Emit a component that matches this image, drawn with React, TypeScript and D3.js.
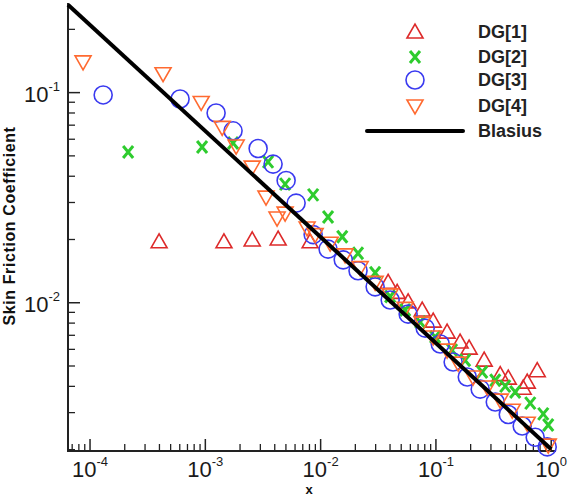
import React from 'react';
import * as d3 from 'd3';

// DG solutions, [x, Cf] pairs
const dg1 = [
  [3.97e-4, 0.0195], [1.45e-3, 0.0195], [2.55e-3, 0.0199], [4.28e-3, 0.0201], [8.1e-3, 0.0195],
  [0.0385, 0.0125], [0.0461, 0.0112], [0.0574, 0.0101], [0.076, 0.00923], [0.0947, 0.00818],
  [0.125, 0.00725], [0.162, 0.0065], [0.194, 0.00608], [0.262, 0.00533], [0.361, 0.00455],
  [0.424, 0.00438], [0.571, 0.00392], [0.619, 0.00419], [0.756, 0.00475],
];
const dg2 = [
  [2.14e-4, 0.0522], [9.37e-4, 0.0551], [1.74e-3, 0.0576], [3.5e-3, 0.0468], [4.92e-3, 0.0367],
  [8.61e-3, 0.0326], [0.0116, 0.0256], [0.0154, 0.0206], [0.0211, 0.0172], [0.0297, 0.0139],
  [0.0401, 0.0107], [0.0541, 0.00923], [0.073, 0.0081], [0.0985, 0.00687], [0.138, 0.00595],
  [0.179, 0.00533], [0.252, 0.00468], [0.327, 0.00428], [0.399, 0.00401], [0.487, 0.00376],
  [0.658, 0.00333], [0.853, 0.00296], [0.942, 0.00262],
];
const dg3 = [
  [1.3e-4, 0.0975], [6.04e-4, 0.0933], [1.24e-3, 0.08], [1.74e-3, 0.0658], [2.87e-3, 0.0542],
  [3.87e-3, 0.0457], [5.02e-3, 0.0382], [6.13e-3, 0.0298], [8.61e-3, 0.0211], [0.0116, 0.018],
  [0.0157, 0.016], [0.0211, 0.0142], [0.0297, 0.0119], [0.0401, 0.0103], [0.0574, 0.00883],
  [0.0807, 0.00757], [0.109, 0.00636], [0.141, 0.00522], [0.187, 0.00443], [0.242, 0.00388],
  [0.327, 0.00337], [0.424, 0.00294], [0.56, 0.00259], [0.726, 0.00229], [0.923, 0.00206],
];
const dg4 = [
  [8.7e-5, 0.14], [4.3e-4, 0.123], [9.2e-4, 0.0898], [1.4e-3, 0.0683], [1.85e-3, 0.0557],
  [2.55e-3, 0.0442], [3.36e-3, 0.0318], [4.19e-3, 0.0253], [4.92e-3, 0.0267], [7.63e-3, 0.0227],
  [8.96e-3, 0.0211], [0.0121, 0.0192], [0.0163, 0.0169], [0.022, 0.0147], [0.0297, 0.0125],
  [0.0401, 0.0109], [0.0541, 0.0094], [0.076, 0.008], [0.0947, 0.00687], [0.125, 0.00595],
  [0.156, 0.00516], [0.21, 0.00443], [0.279, 0.00397], [0.361, 0.00344], [0.459, 0.00308],
  [0.619, 0.00267], [0.942, 0.0021],
];
// Blasius line end points
const blasius = [[6.44e-5, 0.262], [1, 0.00201]];

const xTickExps = [-4, -3, -2, -1, 0];
const yTickExps = [-1, -2];
const legendLabels = ['DG[1]', 'DG[2]', 'DG[3]', 'DG[4]', 'Blasius'];

const W = 568;
const H = 497;
const margin = { top: 3, right: 12, bottom: 46, left: 68 };

const colors = {
  dg1: '#dd2a2a',
  dg2: '#2ecc2e',
  dg3: '#3a3af0',
  dg4: '#ff6a30',
};

const triUp = (x: number, y: number) => `M${x - 8},${y + 6} L${x},${y - 8} L${x + 8},${y + 6} Z`;
const triDown = (x: number, y: number) => `M${x - 8},${y - 6} L${x},${y + 8} L${x + 8},${y - 6} Z`;
const cross = (x: number, y: number) =>
  `M${x - 5},${y - 6} L${x + 5},${y + 6} M${x + 5},${y - 6} L${x - 5},${y + 6}`;

const App = () => {
  const x = d3
    .scaleLog()
    .domain([6.44e-5, 1.1])
    .range([margin.left, W - margin.right]);
  const y = d3
    .scaleLog()
    .domain([0.00197, 0.267])
    .range([H - margin.bottom, margin.top]);

  const x0 = margin.left;
  const y0 = H - margin.bottom;

  // minor tick positions from the scale
  const xMinor = x.ticks().filter((v) => Math.abs(Math.log10(v) - Math.round(Math.log10(v))) > 1e-6);
  const yMinor = y.ticks().filter((v) => Math.abs(Math.log10(v) - Math.round(Math.log10(v))) > 1e-6);

  const line = d3
    .line<number[]>()
    .x((d) => x(d[0]))
    .y((d) => y(d[1]));

  const axisColor = '#222';

  return (
    <svg
      width={W}
      height={H}
      style={{ position: 'absolute', left: 0, top: 0, background: '#fff' }}
      fontFamily="Arial, 'Liberation Sans', Helvetica, sans-serif"
    >
      {/* axes */}
      <line x1={x0} x2={x0} y1={margin.top} y2={y0 + 1} stroke={axisColor} strokeWidth={2} />
      <line x1={x0 - 1} x2={W - margin.right} y1={y0} y2={y0} stroke={axisColor} strokeWidth={2} />

      {xTickExps.map((e) => (
        <line key={'xM' + e} x1={x(10 ** e)} x2={x(10 ** e)} y1={y0} y2={y0 - 12} stroke={axisColor} strokeWidth={1.5} />
      ))}
      {xMinor.map((v, i) => (
        <line key={'xm' + i} x1={x(v)} x2={x(v)} y1={y0} y2={y0 - 7} stroke={axisColor} strokeWidth={1.3} />
      ))}
      {yTickExps.map((e) => (
        <line key={'yM' + e} x1={x0} x2={x0 + 12} y1={y(10 ** e)} y2={y(10 ** e)} stroke={axisColor} strokeWidth={1.5} />
      ))}
      {yMinor.map((v, i) => (
        <line key={'ym' + i} x1={x0} x2={x0 + 7} y1={y(v)} y2={y(v)} stroke={axisColor} strokeWidth={1.3} />
      ))}

      {xTickExps.map((e) => (
        <text key={'xl' + e} x={x(10 ** e)} y={y0 + 26} textAnchor="middle" fontSize={22} fill="#1a1a1a">
          10
          <tspan fontSize={13} dy={-11}>
            {e}
          </tspan>
        </text>
      ))}
      {yTickExps.map((e) => (
        <text key={'yl' + e} x={x0 - 8} y={y(10 ** e) + 9} textAnchor="end" fontSize={22} fill="#1a1a1a">
          10
          <tspan fontSize={13} dy={-11}>
            {e}
          </tspan>
        </text>
      ))}

      <text
        transform={`translate(15, 226) rotate(-90)`}
        textAnchor="middle"
        fontSize={16}
        fontWeight="bold"
        letterSpacing={0.6}
        fill="#111"
      >
        Skin Friction Coefficient
      </text>
      <text x={309} y={494} textAnchor="middle" fontSize={13} fontWeight="bold" fill="#111">
        x
      </text>

      {/* markers */}
      {dg1.map((d, i) => (
        <path key={'a' + i} d={triUp(x(d[0]), y(d[1]))} fill="none" stroke={colors.dg1} strokeWidth={1.6} />
      ))}
      {dg2.map((d, i) => (
        <path key={'b' + i} d={cross(x(d[0]), y(d[1]))} fill="none" stroke={colors.dg2} strokeWidth={3} />
      ))}
      {dg3.map((d, i) => (
        <circle key={'c' + i} cx={x(d[0])} cy={y(d[1])} r={9} fill="none" stroke={colors.dg3} strokeWidth={1.6} />
      ))}
      {dg4.map((d, i) => (
        <path key={'d' + i} d={triDown(x(d[0]), y(d[1]))} fill="none" stroke={colors.dg4} strokeWidth={1.6} />
      ))}

      <path d={line(blasius) || ''} fill="none" stroke="#000" strokeWidth={4} />

      {/* legend */}
      <g>
        <path d={triUp(415, 32)} fill="none" stroke={colors.dg1} strokeWidth={1.6} />
        <path d={cross(415, 57)} fill="none" stroke={colors.dg2} strokeWidth={3} />
        <circle cx={415} cy={80} r={9} fill="none" stroke={colors.dg3} strokeWidth={1.6} />
        <path d={triDown(415, 106)} fill="none" stroke={colors.dg4} strokeWidth={1.6} />
        <line x1={367} x2={463} y1={131} y2={131} stroke="#000" strokeWidth={4} strokeLinecap="round" />
        {legendLabels.map((t, i) => (
          <text key={t} x={478} y={[32, 57, 80, 106, 131][i] + 6} fontSize={18} fontWeight="bold" fill="#222">
            {t}
          </text>
        ))}
      </g>
    </svg>
  );
};

export default App;
